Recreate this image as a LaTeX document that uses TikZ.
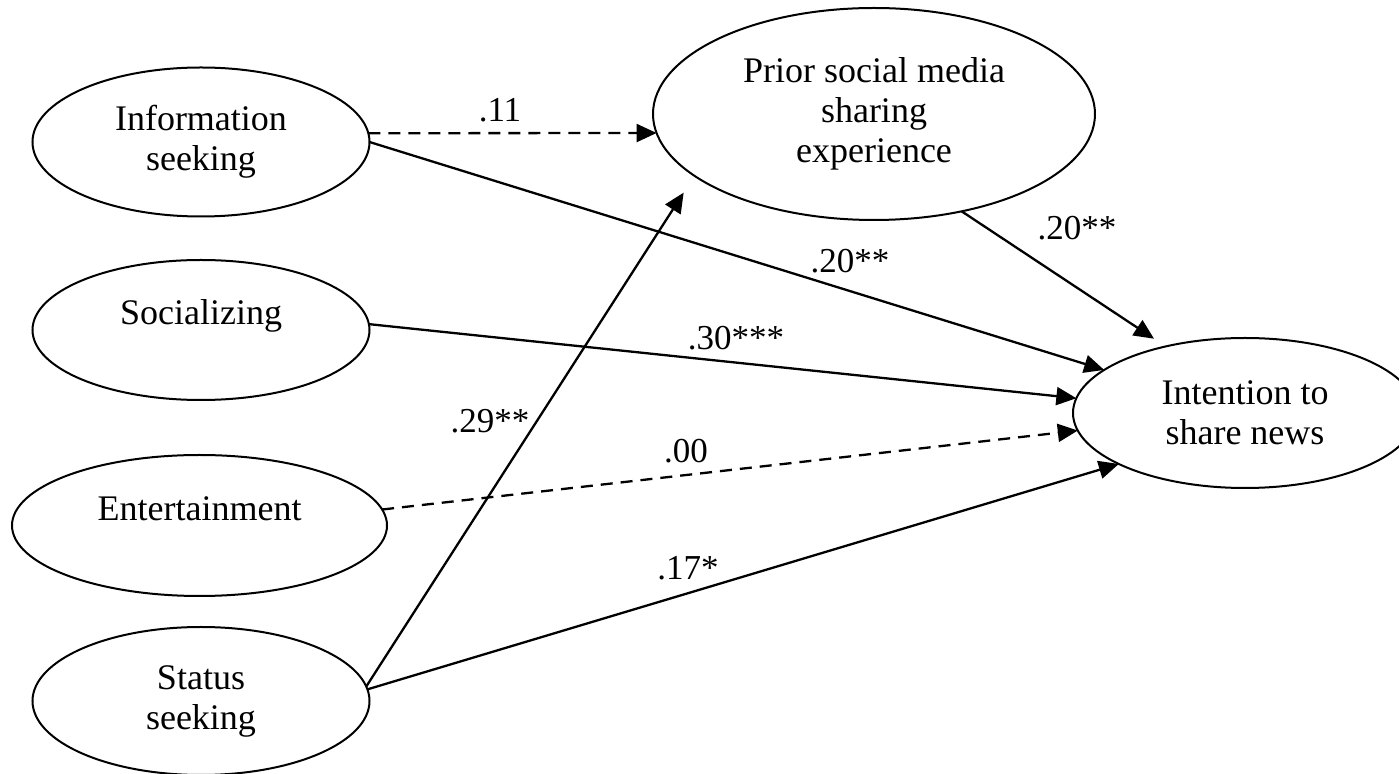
\documentclass[tikz,border=0pt]{standalone}
\usepackage{fontspec}
\setmainfont{Liberation Serif}
\usetikzlibrary{shapes.geometric,arrows.meta}
\begin{document}
\begin{tikzpicture}[x=0.5pt,y=-0.5pt,
  latent/.style={ellipse,draw,line width=1pt,inner sep=0pt,outer sep=0pt,
    align=center,font=\fontsize{18}{20}\selectfont},
  oneline/.style={text height=12pt,text depth=17pt},
  coef/.style={anchor=base,inner sep=0pt,font=\fontsize{17.5}{20}\selectfont},
  path/.style={line width=1.15pt,-{Triangle[length=10pt,width=9pt]}},
  weak/.style={path,dash pattern=on 6pt off 4pt},
]
\useasboundingbox (0,0) rectangle (1399,774);

% latent constructs
\node[latent,minimum width=168.5pt,minimum height=74.5pt] (info) at (201,142) {Information\\seeking};
\node[latent,oneline,minimum width=168.5pt,minimum height=70pt] (soc) at (201,330) {Socializing};
\node[latent,oneline,minimum width=187.5pt,minimum height=70.5pt] (ent) at (199.5,525.5) {Entertainment};
\node[latent,minimum width=168.5pt,minimum height=74pt] (stat) at (201,701) {Status\\seeking};
\node[latent,minimum width=221pt,minimum height=106pt] (prior) at (874,114) {Prior social media\\sharing\\experience};
\node[latent,minimum width=172pt,minimum height=75pt] (intn) at (1245,413) {Intention to\\share news};

% structural paths
\draw[weak] (info.3.5) -- (prior.185);
\draw[path] (info.-0.5) -- (intn.163.3);
\draw[path] (soc.2.4) -- (intn.175.4);
\draw[weak] (ent.5.6) -- (intn.186);
\draw[path] (stat.4.1) -- (intn.202.9);
\draw[path,shorten >=10pt] (stat.5.8) -- (prior.199);
\draw[path,shorten >=7pt] (prior.-48.5) -- (intn.140.9);

% path coefficients
\node[coef] (c-ip) at (500,122) {.11};
\node[coef] (c-ii) at (850,273) {.20**};
\node[coef] (c-pi) at (1077,240) {.20**};
\node[coef] (c-si) at (736,350) {.30***};
\node[coef] (c-sp) at (490,433) {.29**};
\node[coef] (c-ei) at (686,463) {.00};
\node[coef] (c-ti) at (688,580) {.17*};
\end{tikzpicture}
\end{document}
